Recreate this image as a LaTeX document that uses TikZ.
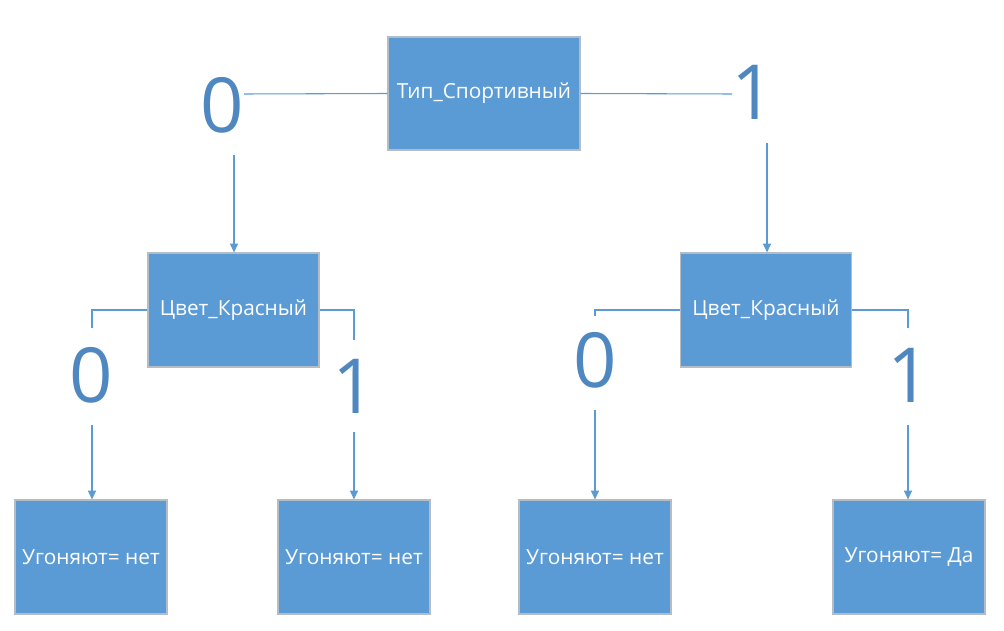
\documentclass[tikz,border=0pt]{standalone}
\usepackage{fontspec}
\setmainfont{Open Sans}
\usetikzlibrary{arrows.meta}
\definecolor{boxblue}{HTML}{5B9BD5}
\definecolor{boxedge}{HTML}{B4BCC6}
\definecolor{digitblue}{HTML}{4F87C0}
\definecolor{lineblue}{HTML}{5B9BD5}
\tikzset{
  box/.style={rectangle, fill=boxblue, draw=boxedge, line width=0.9pt, text=white,
    font=\fontsize{15.6}{18}\selectfont, inner sep=0pt},
  topbox/.style={box, minimum width=192*0.75pt, minimum height=113*0.75pt},
  midbox/.style={box, minimum width=171*0.75pt, minimum height=114*0.75pt},
  leafbox/.style={box, minimum width=152*0.75pt, minimum height=114*0.75pt},
  digit/.style={text=digitblue, font=\fontsize{57}{60}\selectfont, inner sep=0pt},
  conn/.style={draw=lineblue, line width=0.8pt},
  arr/.style={conn, -{Triangle[width=6pt,length=6.5pt]}},
}
\begin{document}
\begin{tikzpicture}[x=0.75pt,y=-0.75pt]
\useasboundingbox (0,0) rectangle (1004,631);
% boxes
\node[topbox] (top) at (484,93.5) {Тип\_Спортивный};
\node[midbox] (m1) at (233.5,310) {Цвет\_Красный};
\node[midbox] (m2) at (766,310) {Цвет\_Красный};
\node[leafbox] (b1) at (91,557) {Угоняют= нет};
\node[leafbox] (b2) at (354,557) {Угоняют= нет};
\node[leafbox] (b3) at (595,557) {Угоняют= нет};
\node[leafbox] (b4) at (909,557) {Угоняют= Да};
% digit labels
\node[digit] (L0) at (222.5,105) {0};
\node[digit] (L1) at (753,92.5) {1};
\node[digit] (A0) at (91.5,375.5) {0};
\node[digit] (A1) at (354,386) {1};
\node[digit] (C0) at (595,360) {0};
\node[digit] (C1) at (909,375) {1};
% connector ends
\coordinate (t0e) at (244,94);
\coordinate (t0s) at (234,155);
\coordinate (t1e) at (732,94);
\coordinate (t1s) at (767,143);
\coordinate (a0e) at (92,328);
\coordinate (a0s) at (92,425);
\coordinate (a1e) at (354,340);
\coordinate (a1s) at (354,432);
\coordinate (c0e) at (595,316);
\coordinate (c0s) at (595,410);
\coordinate (c1e) at (908,328);
\coordinate (c1s) at (908,425);
% connectors
\draw[conn] (top.west) -- (t0e);
\draw[arr] (t0s) -- (t0s |- m1.north);
\draw[conn] (top.east) -- (t1e);
\draw[arr] (t1s) -- (t1s |- m2.north);
\draw[conn] (m1.west) -| (a0e);
\draw[arr] (a0s) -- (a0s |- b1.north);
\draw[conn] (m1.east) -| (a1e);
\draw[arr] (a1s) -- (a1s |- b2.north);
\draw[conn] (m2.west) -| (c0e);
\draw[arr] (c0s) -- (c0s |- b3.north);
\draw[conn] (m2.east) -| (c1e);
\draw[arr] (c1s) -- (c1s |- b4.north);
\end{tikzpicture}
\end{document}
